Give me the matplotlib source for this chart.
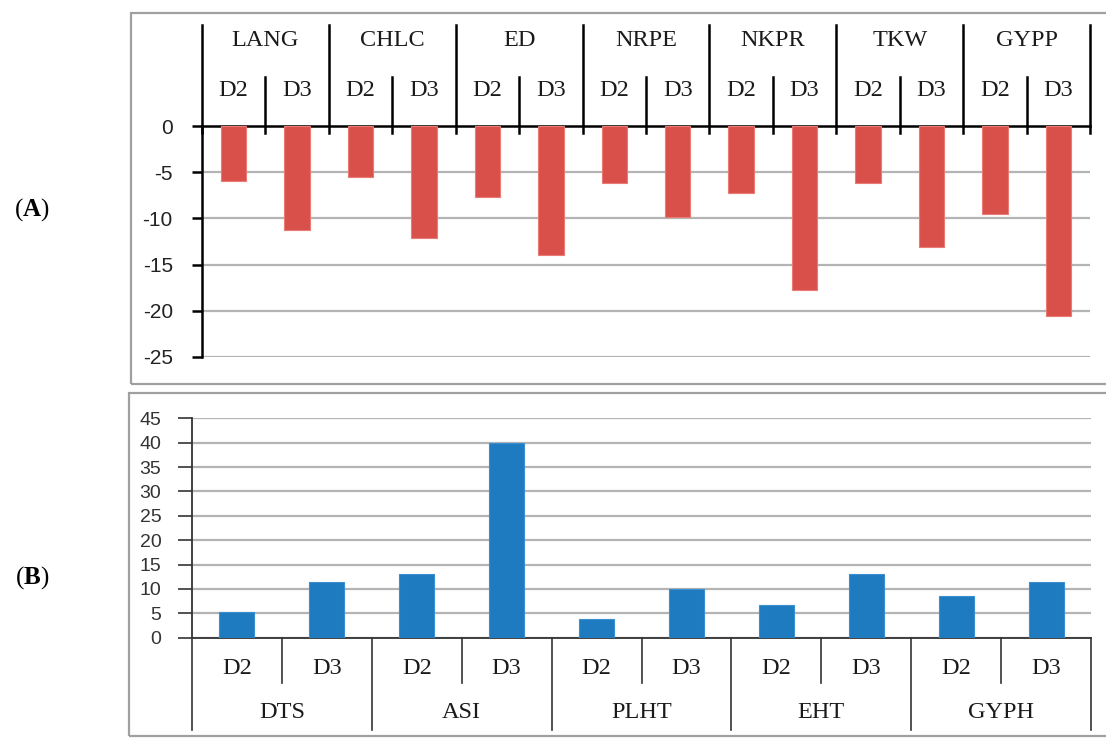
import matplotlib
matplotlib.use("Agg")
import matplotlib.pyplot as plt
import numpy as np
from matplotlib.patches import Rectangle

plt.rcParams['mathtext.fontset'] = 'custom'
plt.rcParams['mathtext.rm'] = 'Liberation Serif'
plt.rcParams['mathtext.bf'] = 'Liberation Serif:bold'
plt.rcParams['axes.unicode_minus'] = False

# Panel A: negative changes per trait and level
traits_a = ['LANG', 'CHLC', 'ED', 'NRPE', 'NKPR', 'TKW', 'GYPP']
levels = ['D2', 'D3']
d2_a = [-6.0, -5.5, -7.7, -6.2, -7.3, -6.2, -9.5]
d3_a = [-11.3, -12.1, -14.0, -9.8, -17.8, -13.1, -20.6]

# Panel B: positive changes per trait and level
traits_b = ['DTS', 'ASI', 'PLHT', 'EHT', 'GYPH']
d2_b = [5.2, 13.0, 3.8, 6.8, 8.6]
d3_b = [11.4, 40.0, 9.9, 13.0, 11.4]

RED = '#d9504b'
BLUE = '#1f7bbf'
GRID = '#b4b4b4'
SERIF = 'Liberation Serif'
SANS = 'Liberation Sans'

W, H = 1106, 738
fig = plt.figure(figsize=(W / 100, H / 100), dpi=100)


def fig_box(x0, y0, x1, y1):
    # pixel box (top-left origin) -> figure fraction [left, bottom, width, height]
    return [x0 / W, 1 - y1 / H, (x1 - x0) / W, (y1 - y0) / H]


def interleave(a, b):
    out = []
    for u, v in zip(a, b):
        out += [u, v]
    return out


# outer frames
for x0, y0, x1, y1 in [(131, 13, 1120, 384), (129, 393, 1120, 736)]:
    fig.add_artist(Rectangle((x0 / W, 1 - y1 / H), (x1 - x0) / W, (y1 - y0) / H,
                             transform=fig.transFigure, fill=False,
                             edgecolor='#a0a0a0', lw=1.6))

# ---------------- panel A ----------------
axa = fig.add_axes(fig_box(202, 126, 1090, 357))
vals_a = interleave(d2_a, d3_a)
xa = np.arange(len(vals_a))
axa.bar(xa, vals_a, width=0.4, color=RED, edgecolor='#ea7a74', lw=0.8, zorder=3)
axa.set_xlim(-0.5, len(vals_a) - 0.5)
axa.set_ylim(-25, 0)
axa.set_yticks(np.arange(-25, 1, 5))
axa.set_xticks([])
axa.yaxis.grid(True, color=GRID, lw=1.6, zorder=0)
axa.tick_params(axis='y', length=7, width=1.8, color='black', pad=14,
                labelsize=15, labelcolor='#222222')
for lab in axa.get_yticklabels():
    lab.set_fontfamily(SANS)
for s in ['right', 'bottom']:
    axa.spines[s].set_visible(False)
for s in ['left', 'top']:
    axa.spines[s].set_color('black')
    axa.spines[s].set_linewidth(1.8)

# category header above the zero line
ta = axa.get_xaxis_transform()
hpx = 357 - 126
fy = lambda py: (357 - py) / hpx
for g in range(len(traits_a) + 1):
    xb = g * 2 - 0.5
    axa.plot([xb, xb], [fy(133), fy(25)], color='black', lw=1.8,
             transform=ta, clip_on=False, zorder=4)
for g, name in enumerate(traits_a):
    axa.plot([g * 2 + 0.5] * 2, [fy(133), fy(77)], color='black', lw=1.8,
             transform=ta, clip_on=False)
    axa.text(g * 2 + 0.5, fy(40), name, transform=ta, ha='center', va='center',
             fontsize=17.5, family=SERIF, color='#1a1a1a')
    for k, lv in enumerate(levels):
        axa.text(g * 2 + k, fy(91), lv, transform=ta, ha='center', va='center',
                 fontsize=17.5, family=SERIF, color='#1a1a1a')

# ---------------- panel B ----------------
axb = fig.add_axes(fig_box(192, 418.3, 1091, 637.7))
vals_b = interleave(d2_b, d3_b)
xb_ = np.arange(len(vals_b))
axb.bar(xb_, vals_b, width=0.39, color=BLUE, edgecolor='#3a8fd0', lw=0.8, zorder=3)
axb.set_xlim(-0.5, len(vals_b) - 0.5)
axb.set_ylim(0, 45)
axb.set_yticks(np.arange(0, 46, 5))
axb.set_xticks([])
axb.yaxis.grid(True, color=GRID, lw=1.6, zorder=0)
axb.tick_params(axis='y', length=10, width=1.2, color='#333333', pad=12,
                labelsize=14, labelcolor='#333333')
for lab in axb.get_yticklabels():
    lab.set_fontfamily(SANS)
for s in ['right', 'top']:
    axb.spines[s].set_visible(False)
for s in ['left', 'bottom']:
    axb.spines[s].set_color('#333333')
    axb.spines[s].set_linewidth(1.3)

tb = axb.get_xaxis_transform()
hpx_b = 637.7 - 418.3
gy = lambda py: (637.7 - py) / hpx_b
for g in range(len(traits_b) + 1):
    xg = g * 2 - 0.5
    axb.plot([xg, xg], [0, gy(730)], color='#333333', lw=1.2,
             transform=tb, clip_on=False)
for g, name in enumerate(traits_b):
    axb.plot([g * 2 + 0.5] * 2, [0, gy(683)], color='#333333', lw=1.2,
             transform=tb, clip_on=False)
    axb.text(g * 2 + 0.5, gy(713), name, transform=tb, ha='center', va='center',
             fontsize=17.5, family=SERIF, color='#1a1a1a')
    for k, lv in enumerate(levels):
        axb.text(g * 2 + k, gy(668), lv, transform=tb, ha='center', va='center',
                 fontsize=17.5, family=SERIF, color='#1a1a1a')

# panel letters
fig.text(32 / W, 1 - 210 / H, r'($\mathbf{A}$)', ha='center', va='center',
         fontsize=18, family=SERIF)
fig.text(32 / W, 1 - 578 / H, r'($\mathbf{B}$)', ha='center', va='center',
         fontsize=18, family=SERIF)

fig.savefig('out.png', dpi=100)
